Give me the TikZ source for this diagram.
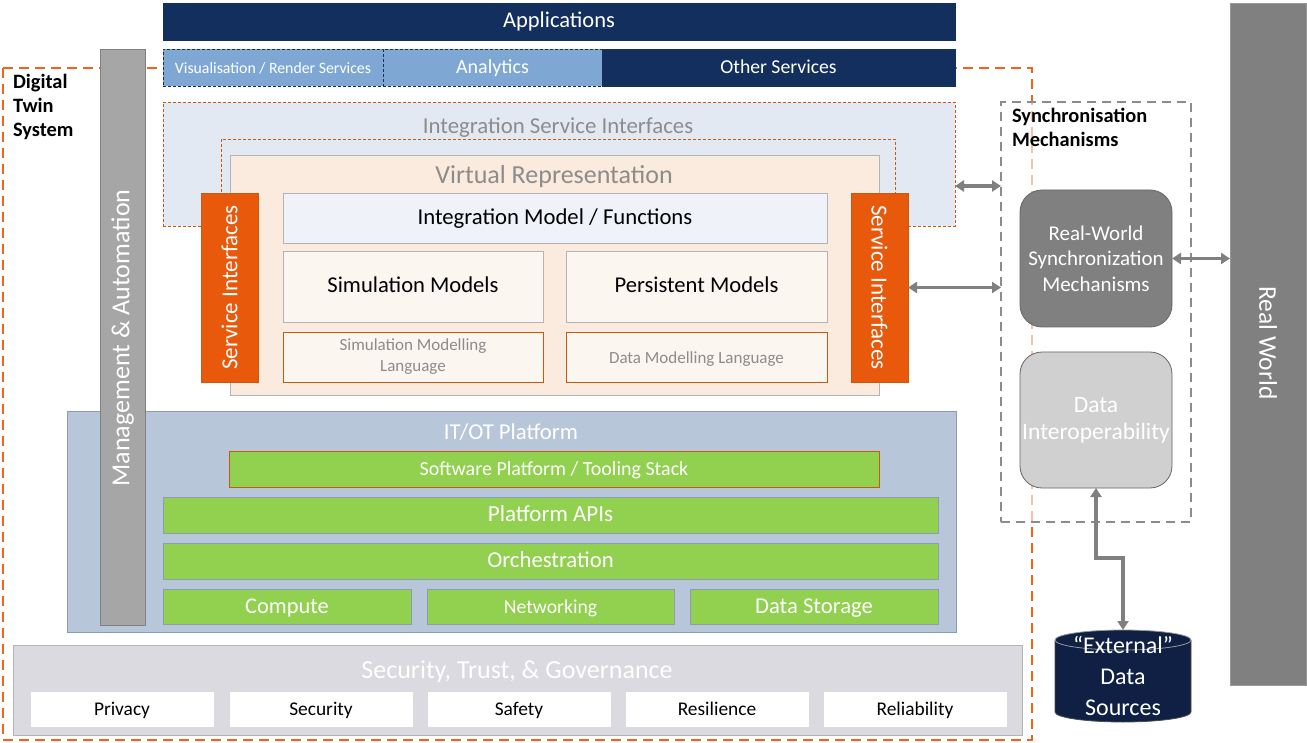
\documentclass[tikz,border=0pt]{standalone}
\usepackage{fontspec}
\setmainfont{Carlito}
\usetikzlibrary{arrows.meta,shapes.geometric}
\definecolor{navy}{RGB}{19,47,94}
\definecolor{lblue}{RGB}{127,167,212}
\definecolor{isifill}{RGB}{227,233,242}
\definecolor{vrfill}{RGB}{251,235,222}
\definecolor{imffill}{RGB}{239,243,249}
\definecolor{modfill}{RGB}{252,246,241}
\definecolor{siorange}{RGB}{232,89,12}
\definecolor{langborder}{RGB}{197,90,17}
\definecolor{mgmtgray}{RGB}{166,166,166}
\definecolor{itot}{RGB}{184,198,218}
\definecolor{itotborder}{RGB}{140,156,180}
\definecolor{green}{RGB}{146,208,80}
\definecolor{stg}{RGB}{218,218,224}
\definecolor{midgray}{RGB}{128,128,128}
\definecolor{lightgraybox}{RGB}{208,208,208}
\definecolor{cylnavy}{RGB}{15,32,68}
\definecolor{dtsorange}{RGB}{240,100,25}
\definecolor{bordergray}{RGB}{180,180,180}
\definecolor{titlegray}{RGB}{140,140,140}
\newcommand{\fsz}[2]{\fontsize{#1}{#2}\selectfont}
\begin{document}
\begin{tikzpicture}[x=1pt,y=-1pt,
  box/.style={draw, inner sep=0pt, outer sep=0pt, anchor=north west, align=center, line width=0.8pt},
  oneline/.style={text height=15pt, text depth=2pt},
  greenbox/.style={box, oneline, fill=green, draw=itotborder, text=white},
  secbox/.style={box, oneline, fill=white, draw=white, text=black, minimum width=182, minimum height=34, font=\fsz{19.4}{23}},
  modbox/.style={box, oneline, fill=modfill, draw=bordergray, text=black, font=\fsz{22.6}{27}},
  langbox/.style={box, fill=modfill, draw=langborder, text=titlegray, font=\fsz{17}{21}},
  sibox/.style={box, fill=siorange, draw=langborder, minimum width=57, minimum height=189},
  arr/.style={draw=midgray, line width=3.5pt, {Triangle[width=11pt,length=9pt]}-{Triangle[width=11pt,length=9pt]}},
  lbl/.style={inner sep=0pt, outer sep=0pt}
]
\useasboundingbox (0,0) rectangle (1307,743);

% Digital twin system boundary
\draw[draw=dtsorange, line width=1.8pt, dash pattern=on 10pt off 6pt] (3,68) rectangle (1032,740);
\node[lbl, anchor=north west, align=left, font=\bfseries\fsz{20.4}{24}] (dts) at (13,74) {Digital\\Twin\\System};

% Applications and services
\node[box, oneline, fill=navy, draw=navy, text=white, minimum width=792, minimum height=37, font=\fsz{22.5}{26}] (apps) at (163,3) {Applications};
\node[box, oneline, fill=lblue, draw=navy, dash pattern=on 3pt off 2pt, text=white, minimum width=220, minimum height=37, font=\fsz{15.8}{19}] (vis) at (163,49) {Visualisation / Render Services};
\node[box, oneline, fill=lblue, draw=navy, dash pattern=on 3pt off 2pt, text=white, minimum width=219, minimum height=37, font=\fsz{20}{24}] (ana) at (383,49) {Analytics};
\node[box, oneline, fill=navy, draw=navy, text=white, minimum width=353, minimum height=37, font=\fsz{19.7}{24}] (oth) at (602,49) {Other Services};

% Integration service interfaces
\node[box, fill=isifill, draw=langborder, dash pattern=on 3pt off 2pt, minimum width=792, minimum height=124] (isi) at (163,102) {};
\node[lbl, text=titlegray, font=\fsz{22.8}{27}] (isit) at (558,128) {Integration Service Interfaces};
\draw[draw=langborder, line width=0.8pt, dash pattern=on 3pt off 2pt] (221,139) rectangle (895,300);

% Virtual representation
\node[box, fill=vrfill, draw=bordergray, minimum width=649, minimum height=240] (vr) at (230,155) {};
\node[lbl, text=titlegray, font=\fsz{26}{30}] (vrt) at (554,177) {Virtual Representation};
\node[box, oneline, fill=imffill, draw=bordergray, text=black, minimum width=544, minimum height=50, font=\fsz{22.7}{27}] (imf) at (283,193) {Integration Model / Functions};
\node[modbox, minimum width=260, minimum height=71] (sim) at (283,251) {Simulation Models};
\node[modbox, minimum width=261, minimum height=71] (per) at (566,251) {Persistent Models};
\node[langbox, minimum width=260, minimum height=50] (sml) at (283,332) {Simulation Modelling\\Language};
\node[langbox, oneline, minimum width=261, minimum height=50] (dml) at (566,332) {Data Modelling Language};

% Service interfaces
\node[sibox] (sil) at (201,193) {};
\node[lbl, rotate=90, text=white, font=\fsz{23}{27}] (silt) at (229.5,287.5) {Service Interfaces};
\node[sibox] (sir) at (851,193) {};
\node[lbl, rotate=-90, text=white, font=\fsz{23}{27}] (sirt) at (879.5,287.5) {Service Interfaces};

% IT/OT platform
\node[box, fill=itot, draw=itotborder, minimum width=889, minimum height=221] (itot) at (67,411) {};
\node[lbl, text=white, font=\fsz{22.7}{27}] (itott) at (511,432) {IT/OT Platform};
\node[greenbox, draw=langborder, minimum width=650, minimum height=36, font=\fsz{20}{24}] (sw) at (229,451) {Software Platform / Tooling Stack};
\node[greenbox, minimum width=775, minimum height=36, font=\fsz{23}{27}] (api) at (163,497) {Platform APIs};
\node[greenbox, minimum width=775, minimum height=36, font=\fsz{22.7}{27}] (orch) at (163,543) {Orchestration};
\node[greenbox, minimum width=248, minimum height=35, font=\fsz{22.4}{27}] (cmp) at (163,589) {Compute};
\node[greenbox, minimum width=247, minimum height=35, font=\fsz{19.7}{24}] (net) at (427,589) {Networking};
\node[greenbox, minimum width=248, minimum height=35, font=\fsz{22.7}{27}] (ds) at (690,589) {Data Storage};

% Management & automation
\node[box, fill=mgmtgray, draw=midgray, minimum width=45, minimum height=576] (mgmt) at (100,49) {};
\node[lbl, rotate=90, text=white, font=\fsz{26}{30}] (mgmtt) at (122.5,338) {Management \& Automation};

% Security, trust & governance
\node[box, fill=stg, draw=bordergray, minimum width=1009, minimum height=90] (stg) at (13,645) {};
\node[lbl, text=white, font=\fsz{26}{30}] (stgt) at (517,672) {Security, Trust, \& Governance};
\node[secbox] (priv) at (31,692) {Privacy};
\node[secbox] (sec) at (230,692) {Security};
\node[secbox] (saf) at (428,692) {Safety};
\node[secbox] (res) at (626,692) {Resilience};
\node[secbox] (rel) at (824,692) {Reliability};

% Synchronisation mechanisms
\node[box, fill=white, fill opacity=0.6, draw=titlegray, draw opacity=1, line width=1.5pt, dash pattern=on 9pt off 6pt, minimum width=190, minimum height=420] (sync) at (1001,102) {};
\node[lbl, anchor=north west, align=left, font=\bfseries\fsz{20.4}{24}] (synct) at (1012,108) {Synchronisation\\Mechanisms};
\node[box, rounded corners=22pt, fill=midgray, draw=black!60, text=white, minimum width=152, minimum height=137, font=\fsz{21}{25.5}] (rws) at (1020,190) {Real-World\\Synchronization\\Mechanisms};
\node[box, rounded corners=22pt, fill=lightgraybox, draw=black!60, text=white, minimum width=152, minimum height=136, font=\fsz{23.5}{27}] (di) at (1020,352) {Data\\Interoperability};

% Real world
\node[box, fill=midgray, draw=midgray!80, minimum width=76, minimum height=682] (rw) at (1230,3) {};
\node[lbl, rotate=-90, text=white, font=\fsz{25.5}{30}] (rwt) at (1268,343) {Real World};

% External data sources (cylinder)
\fill[cylnavy] (1055,640) -- (1055,712) arc[start angle=180, end angle=0, x radius=68, y radius=10] -- (1191,640) arc[start angle=0, end angle=-180, x radius=68, y radius=10] -- cycle;
\draw[black!70, line width=0.8pt] (1055,640) -- (1055,712) arc[start angle=180, end angle=0, x radius=68, y radius=10] -- (1191,640);
\draw[black!40, line width=0.8pt] (1123,640) ellipse[x radius=68, y radius=10];
\node[lbl, minimum width=136, minimum height=92, anchor=north west, align=center, text=white, font=\fsz{24}{31}] (ext) at (1055,630) {“External”\\Data\\Sources};

% Connectors
\coordinate (a1) at ([yshift=-22pt]isi.east);
\draw[arr] (a1) -- (a1 -| sync.west);
\draw[arr] (sir.east) -- (sir.east -| sync.west);
\draw[arr] (rws.east) -- (rws.east -| rw.west);
\draw[arr] (di.south) -- ++(0,70) -| (ext.north);
\end{tikzpicture}
\end{document}
